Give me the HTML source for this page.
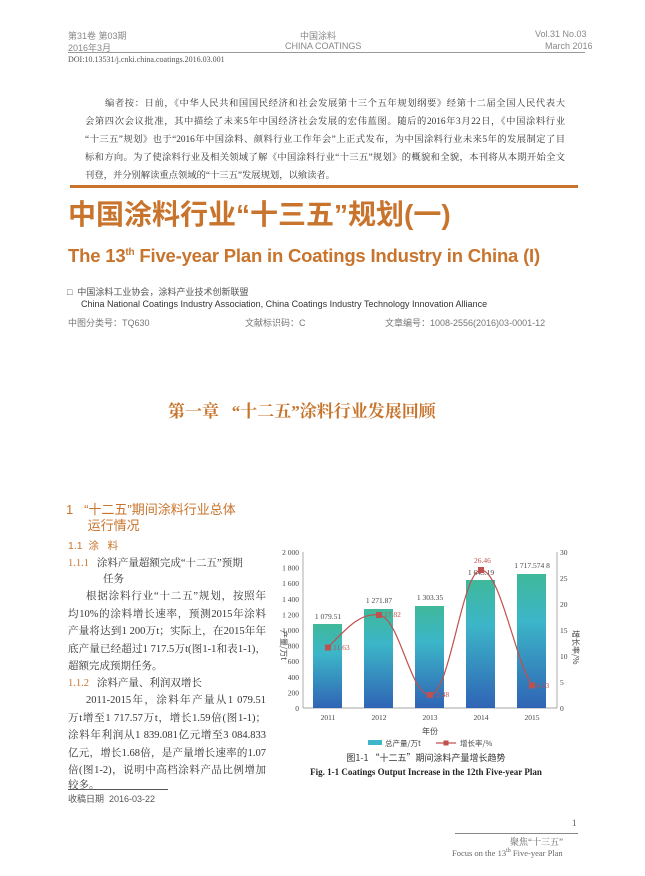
<!DOCTYPE html>
<html><head><meta charset="utf-8"><style>
body{margin:0;width:645px;height:876px;background:#fff;position:relative;overflow:hidden;font-family:"Liberation Sans","Noto Sans CJK SC",sans-serif;color:#333}
.a{position:absolute;white-space:nowrap}
.g{color:#888;font-size:9px}
.s{font-family:"Liberation Serif","Noto Serif CJK SC",serif}
.o{color:#c8742c}
.bt{font-family:"Liberation Serif","Noto Serif CJK SC",serif;font-size:10.5px;color:#333}
.j{position:absolute;text-align:justify;text-align-last:justify;white-space:nowrap;overflow:hidden}
.en{font-family:"Liberation Serif","Noto Serif CJK SC",serif;font-size:9.3px;color:#333}
</style></head><body>
<div class="a g" style="left:68px;top:29px">第31卷 第03期</div>
<div class="a g" style="left:68px;top:41px">2016年3月</div>
<div class="a g" style="left:300px;top:29px">中国涂料</div>
<div class="a g" style="left:285px;top:41px">CHINA COATINGS</div>
<div class="a g" style="left:535px;top:29px">Vol.31 No.03</div>
<div class="a g" style="left:545px;top:41px">March 2016</div>
<div class="a" style="left:68px;top:52px;width:517px;border-top:1px solid #999"></div>
<div class="a s" style="left:68px;top:55px;font-size:8px;color:#555">DOI:10.13531/j.cnki.china.coatings.2016.03.001</div>
<div class="j en" style="left:105px;top:95px;width:460px">编者按：日前，《中华人民共和国国民经济和社会发展第十三个五年规划纲要》经第十二届全国人民代表大</div>
<div class="j en" style="left:85px;top:113px;width:480px">会第四次会议批准，其中描绘了未来5年中国经济社会发展的宏伟蓝图。随后的2016年3月22日，《中国涂料行业</div>
<div class="j en" style="left:85px;top:131px;width:480px">“十三五”规划》也于“2016年中国涂料、颜料行业工作年会”上正式发布，为中国涂料行业未来5年的发展制定了目</div>
<div class="j en" style="left:85px;top:149px;width:480px">标和方向。为了使涂料行业及相关领域了解《中国涂料行业“十三五”规划》的概貌和全貌，本刊将从本期开始全文</div>
<div class="a en" style="left:85px;top:167px">刊登，并分别解读重点领域的“十三五”发展规划，以飨读者。</div>
<div class="a" style="left:70px;top:185px;width:508px;height:3px;background:#c8742c"></div>
<div class="a o" style="left:68px;top:193px;font-size:28px;font-weight:bold">中国涂料行业“十三五”规划(一)</div>
<div class="a o" style="left:68px;top:245px;font-size:18.5px;font-weight:bold;letter-spacing:-0.2px">The 13<sup style="font-size:10px">th</sup> Five-year Plan in Coatings Industry in China (I)</div>
<div class="a" style="left:67px;top:285px;font-size:9px;color:#555">□&nbsp; 中国涂料工业协会，涂料产业技术创新联盟</div>
<div class="a" style="left:81px;top:299px;font-size:9px;color:#333">China National Coatings Industry Association, China Coatings Industry Technology Innovation Alliance</div>
<div class="a" style="left:68px;top:316px;font-size:9px;color:#777">中图分类号：TQ630</div>
<div class="a" style="left:245px;top:316px;font-size:9px;color:#777">文献标识码：C</div>
<div class="a" style="left:385px;top:316px;font-size:9px;color:#777">文章编号：1008-2556(2016)03-0001-12</div>
<div class="a o s" style="left:168px;top:397px;font-size:17px;font-weight:bold">第一章&nbsp;&nbsp; “十二五”涂料行业发展回顾</div>
<div class="a o" style="left:66px;top:502px;font-size:13px;line-height:16px">1&nbsp;&nbsp; “十二五”期间涂料行业总体<br>&nbsp;&nbsp;&nbsp;&nbsp;&nbsp;&nbsp;运行情况</div>
<div class="a o" style="left:68px;top:538px;font-size:10.5px">1.1&nbsp; 涂&nbsp;&nbsp; 料</div>
<div class="a bt" style="left:68px;top:555px"><span class="o">1.1.1</span>&nbsp;&nbsp; 涂料产量超额完成“十二五”预期</div>
<div class="a bt" style="left:103px;top:571px">任务</div>
<div class="j bt" style="left:86px;top:588px;width:180px">根据涂料行业“十二五”规划，按照年</div>
<div class="j bt" style="left:68px;top:605.5px;width:198px">均10%的涂料增长速率，预测2015年涂料</div>
<div class="j bt" style="left:68px;top:623px;width:198px">产量将达到1 200万t；实际上，在2015年年</div>
<div class="j bt" style="left:68px;top:640.5px;width:198px">底产量已经超过1 717.5万t(图1-1和表1-1)，</div>
<div class="a bt" style="left:68px;top:658px">超额完成预期任务。</div>
<div class="a bt" style="left:68px;top:675px"><span class="o">1.1.2</span>&nbsp;&nbsp; 涂料产量、利润双增长</div>
<div class="j bt" style="left:86px;top:692px;width:180px">2011-2015年，涂料年产量从1 079.51</div>
<div class="j bt" style="left:68px;top:709.5px;width:198px">万t增至1 717.57万t，增长1.59倍(图1-1)；</div>
<div class="j bt" style="left:68px;top:727px;width:198px">涂料年利润从1 839.081亿元增至3 084.833</div>
<div class="j bt" style="left:68px;top:744.5px;width:198px">亿元，增长1.68倍，是产量增长速率的1.07</div>
<div class="j bt" style="left:68px;top:762px;width:198px">倍(图1-2)，说明中高档涂料产品比例增加</div>
<div class="a bt" style="left:68px;top:777px">较多。</div>
<div class="a" style="left:68px;top:789px;width:100px;border-top:1px solid #555"></div>
<div class="a" style="left:68px;top:792px;font-size:9px;color:#555">收稿日期&nbsp; 2016-03-22</div>
<svg class="a" style="left:270px;top:540px" width="310" height="245" viewBox="270 540 310 245">
<defs><linearGradient id="b" x1="0" y1="0" x2="0" y2="1"><stop offset="0" stop-color="#3fb89a"/><stop offset="0.35" stop-color="#3cb6c8"/><stop offset="1" stop-color="#2f64b5"/></linearGradient></defs>
<g font-family="Liberation Serif,serif" font-size="7.5" fill="#444" text-anchor="end">
<text x="299" y="555">2 000</text><text x="299" y="570.6">1 800</text><text x="299" y="586.2">1 600</text><text x="299" y="601.8">1 400</text><text x="299" y="617.4">1 200</text><text x="299" y="633">1 000</text><text x="299" y="648.6">800</text><text x="299" y="664.2">600</text><text x="299" y="679.8">400</text><text x="299" y="695.4">200</text><text x="299" y="711">0</text></g>
<g font-family="Liberation Serif,serif" font-size="7.5" fill="#444">
<text x="560" y="555">30</text><text x="560" y="581">25</text><text x="560" y="607">20</text><text x="560" y="633">15</text><text x="560" y="659">10</text><text x="560" y="685">5</text><text x="560" y="711">0</text></g>
<line x1="303" y1="552" x2="303" y2="708" stroke="#888" stroke-width="0.7"/>
<line x1="557" y1="552" x2="557" y2="708" stroke="#888" stroke-width="0.7"/>
<line x1="303" y1="708" x2="557" y2="708" stroke="#888" stroke-width="0.7"/>
<rect x="313" y="624" width="29" height="84" fill="url(#b)"/>
<rect x="364" y="609" width="29" height="99" fill="url(#b)"/>
<rect x="415" y="606" width="29" height="102" fill="url(#b)"/>
<rect x="466" y="580" width="29" height="128" fill="url(#b)"/>
<rect x="517" y="574" width="29" height="134" fill="url(#b)"/>
<g font-family="Liberation Serif,serif" font-size="7.5" fill="#444" text-anchor="middle">
<text x="328" y="619">1 079.51</text><text x="379" y="603">1 271.87</text><text x="430" y="600">1 303.35</text><text x="481" y="575">1 643.19</text><text x="532" y="568">1 717.574 8</text>
<text x="328" y="720">2011</text><text x="379" y="720">2012</text><text x="430" y="720">2013</text><text x="481" y="720">2014</text><text x="532" y="720">2015</text>
<text x="430" y="734" font-size="8">年份</text></g>
<path d="M328,647.5 C345,630 360,612 379,615 C400,618 410,695 430,695 C450,695 462,570 481,570 C500,570 515,660 532,685.5" fill="none" stroke="#c0504d" stroke-width="1.2"/>
<g fill="#c0504d"><rect x="325" y="644.5" width="6" height="6"/><rect x="376" y="612" width="6" height="6"/><rect x="427" y="692" width="6" height="6"/><rect x="478" y="567" width="6" height="6"/><rect x="529" y="682.5" width="6" height="6"/></g>
<g font-family="Liberation Serif,serif" font-size="7.5" fill="#c0504d"><text x="333" y="650">11.63</text><text x="384" y="617">17.82</text><text x="436" y="697">2.48</text><text x="474" y="563">26.46</text><text x="536" y="688">4.33</text></g>
<text x="281" y="630" font-size="8" fill="#444" transform="rotate(90 281 630)" font-family="Noto Sans CJK SC,sans-serif">产量/万t</text>
<text x="573" y="630" font-size="8" fill="#444" transform="rotate(90 573 630)" font-family="Noto Sans CJK SC,sans-serif">增长率/%</text>
<rect x="368" y="740" width="14" height="5" fill="#3cb6c8"/>
<text x="385" y="746" font-size="7.5" fill="#444" font-family="Noto Sans CJK SC,sans-serif">总产量/万t</text>
<line x1="436" y1="743" x2="456" y2="743" stroke="#c0504d" stroke-width="1.2"/><rect x="443.5" y="740.5" width="5" height="5" fill="#c0504d"/>
<text x="460" y="746" font-size="7.5" fill="#444" font-family="Noto Sans CJK SC,sans-serif">增长率/%</text>
<text x="426" y="761" font-size="9" fill="#333" text-anchor="middle" font-family="Noto Sans CJK SC,sans-serif">图1-1 “十二五”期间涂料产量增长趋势</text>
<text x="426" y="775" font-size="9" font-weight="bold" fill="#222" text-anchor="middle" font-family="Liberation Serif,serif">Fig. 1-1 Coatings Output Increase in the 12th Five-year Plan</text>
</svg>
<div class="a s" style="left:572px;top:818px;font-size:9px;color:#555">1</div>
<div class="a" style="left:455px;top:833px;width:123px;border-top:1px solid #888"></div>
<div class="a s" style="left:510px;top:835px;font-size:9px;color:#666">聚焦“十三五”</div>
<div class="a s" style="left:452px;top:848px;font-size:8.5px;color:#666">Focus on the 13<sup style="font-size:6px">th</sup> Five-year Plan</div>
</body></html>
